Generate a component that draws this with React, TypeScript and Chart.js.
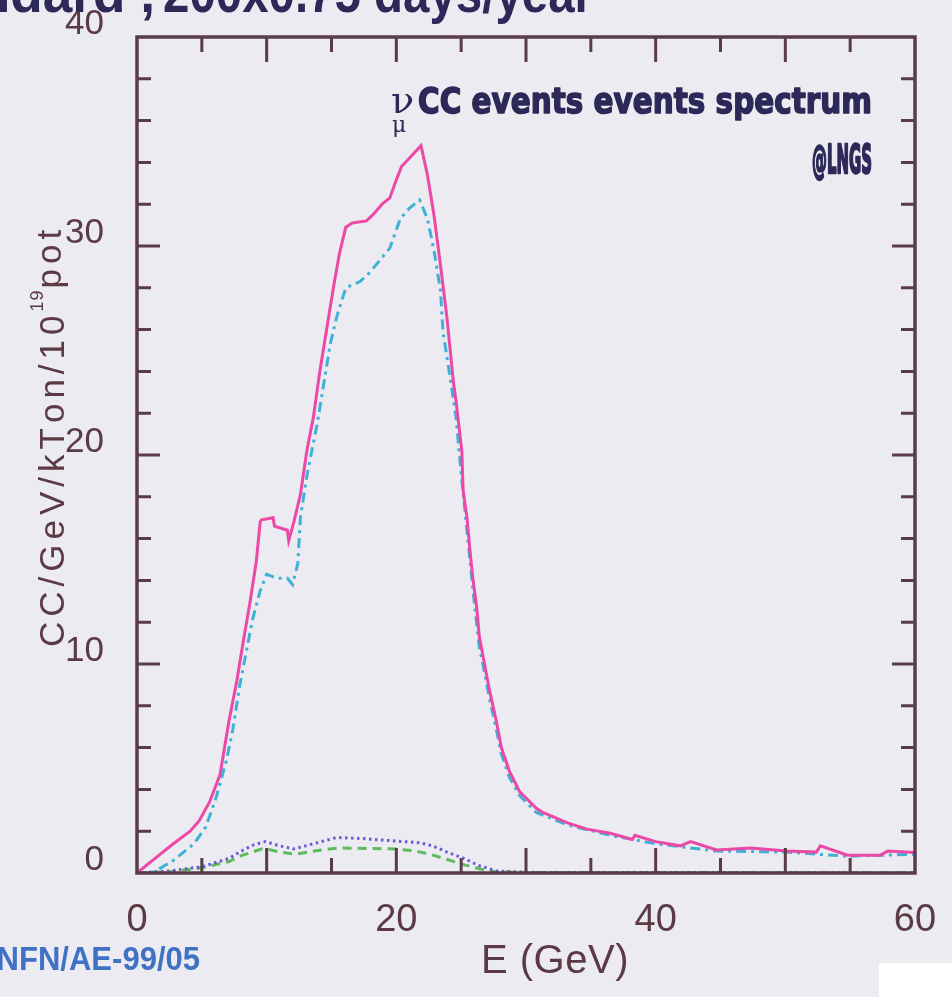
import { useEffect, useRef } from "react";
import { Chart, registerables } from "chart.js";

Chart.register(...registerables);

// ---- axis ranges / tick labels ----
const xTickValues = [0, 20, 40, 60];
const yTickValues = [0, 10, 20, 30, 40];

// ---- total (solid magenta) ----
const totalE = [0, 1.8, 2.8, 4.1, 4.8, 5.6, 6.4, 7.1, 7.7, 8.2, 8.7, 9.2, 9.5, 9.6, 10.5, 10.6, 11.6, 11.7, 12.1, 12.6, 13.1, 13.6, 14.1, 14.7, 15.2, 15.6, 16.1, 16.6, 17.7, 18.2, 18.9, 19.5, 19.9, 20.4, 21.0, 21.9, 22.4, 22.9, 23.4, 23.9, 24.4, 24.6, 25.05, 25.15, 25.45, 25.65, 25.9, 26.2, 26.4, 26.8, 27.2, 27.7, 28.1, 28.7, 29.5, 30.8, 31.3, 33.2, 34.7, 36.5, 38.2, 38.4, 40.0, 41.9, 42.7, 44.7, 47.3, 50.1, 52.4, 52.7, 54.8, 57.3, 57.9, 60];
const totalRate = [0, 0.9, 1.4, 2.0, 2.5, 3.4, 4.7, 7.3, 9.2, 11.1, 12.9, 14.9, 16.8, 16.9, 17.0, 16.6, 16.4, 15.9, 16.8, 18.1, 20.2, 21.8, 24.0, 26.3, 28.2, 29.6, 30.9, 31.1, 31.2, 31.5, 32.0, 32.3, 33.0, 33.8, 34.2, 34.8, 33.4, 31.5, 29.1, 26.6, 23.5, 22.6, 20.2, 18.3, 17.0, 15.6, 14.1, 12.7, 11.3, 10.0, 8.7, 7.3, 6.0, 4.9, 3.9, 3.1, 2.9, 2.4, 2.1, 1.9, 1.6, 1.8, 1.5, 1.3, 1.5, 1.1, 1.2, 1.05, 1.0, 1.3, 0.85, 0.85, 1.05, 0.98];

// ---- main component (cyan dash-dot) ----
const mainE = [0, 1.3, 2.8, 4.4, 5.3, 6.1, 6.9, 7.4, 7.9, 8.4, 8.9, 9.5, 10.0, 10.8, 11.6, 12.0, 12.4, 12.6, 13.1, 13.9, 14.4, 14.9, 15.4, 16.1, 17.2, 17.9, 18.7, 19.5, 20.3, 21.0, 21.8, 22.4, 22.9, 23.4, 23.6, 24.2, 24.6, 25.05, 25.45, 25.9, 26.4, 26.8, 27.2, 27.7, 28.1, 28.7, 29.5, 30.8, 33.2, 36.5, 40.0, 44.7, 50.1, 54.8, 60];
const mainRate = [0, 0.05, 0.6, 1.4, 2.2, 3.6, 5.4, 6.9, 8.9, 10.5, 12.1, 13.5, 14.3, 14.1, 14.1, 13.8, 14.8, 17.0, 19.0, 21.5, 23.4, 25.3, 26.6, 28.0, 28.3, 28.7, 29.3, 29.9, 31.3, 31.8, 32.2, 31.3, 29.8, 27.9, 25.9, 23.5, 21.8, 18.8, 16.4, 13.6, 10.8, 9.6, 8.3, 6.9, 5.7, 4.6, 3.7, 2.9, 2.3, 1.8, 1.4, 1.05, 1.0, 0.8, 0.9];

// ---- dotted (purple) ----
const dottedE = [0, 2.5, 5.0, 7.1, 7.9, 9.0, 9.9, 11.0, 12.1, 13.0, 14.2, 15.4, 17.4, 19.5, 21.8, 22.8, 23.9, 25.2, 26.4, 27.7, 30.3, 45, 60];
const dottedRate = [0, 0.1, 0.3, 0.7, 1.0, 1.35, 1.5, 1.3, 1.15, 1.3, 1.5, 1.7, 1.65, 1.55, 1.45, 1.3, 1.0, 0.7, 0.35, 0.1, 0.03, 0.02, 0];

// ---- dashed (green) ----
const dashedE = [0, 2.5, 5.0, 7.1, 7.9, 9.6, 10.0, 11.0, 12.2, 14.2, 15.6, 20.0, 21.5, 22.6, 25.2, 26.4, 27.7, 30.3, 60];
const dashedRate = [0, 0.05, 0.25, 0.55, 0.8, 1.15, 1.15, 1.0, 0.9, 1.1, 1.2, 1.15, 1.05, 0.9, 0.4, 0.2, 0.05, 0.02, 0];

const BG = "#ecebf2";
const FRAME = "#5a3c46";
const TEXT = "#5b3a44";
const NAVY = "#2c2858";

function pts(xs: number[], ys: number[]) {
  return xs.map((x, i) => ({ x, y: ys[i] }));
}

function fitText(
  ctx: CanvasRenderingContext2D,
  text: string,
  x: number,
  baseline: number,
  width: number,
  font: string,
  align: "left" | "right",
  stroke = 0
) {
  ctx.save();
  ctx.font = font;
  const w = ctx.measureText(text).width;
  const s = width / w;
  ctx.translate(align === "right" ? x - width : x, baseline);
  ctx.scale(s, 1);
  ctx.textAlign = "left";
  ctx.textBaseline = "alphabetic";
  ctx.fillText(text, 0, 0);
  if (stroke > 0) {
    ctx.strokeStyle = ctx.fillStyle as string;
    ctx.lineWidth = stroke;
    ctx.lineJoin = "round";
    ctx.strokeText(text, 0, 0);
  }
  ctx.restore();
}

function drawSpaced(ctx: CanvasRenderingContext2D, text: string, x: number, y: number, spacing: number) {
  let cx = x;
  for (const ch of text) {
    ctx.fillText(ch, cx, y);
    cx += ctx.measureText(ch).width + spacing;
  }
  return cx;
}

const decorPlugin = {
  id: "decor",
  beforeDraw(chart: any) {
    const ctx = chart.ctx as CanvasRenderingContext2D;
    ctx.save();
    ctx.fillStyle = BG;
    ctx.fillRect(0, 0, chart.width, chart.height);
    ctx.restore();
  },
  afterDraw(chart: any) {
    const ctx = chart.ctx as CanvasRenderingContext2D;
    const a = chart.chartArea;
    const xs = chart.scales.x;
    const ys = chart.scales.y;
    ctx.save();
    // frame
    ctx.strokeStyle = FRAME;
    ctx.lineWidth = 3.5;
    ctx.strokeRect(a.left, a.top, a.right - a.left, a.bottom - a.top);
    // tick marks
    ctx.lineWidth = 3;
    ctx.beginPath();
    for (let v = 5; v < 60; v += 5) {
      const px = xs.getPixelForValue(v);
      const len = v % 10 === 0 ? 25 : 15;
      ctx.moveTo(px, a.bottom);
      ctx.lineTo(px, a.bottom - len);
      ctx.moveTo(px, a.top);
      ctx.lineTo(px, a.top + len);
    }
    for (let v = 2; v < 40; v += 2) {
      const py = ys.getPixelForValue(v);
      const len = v % 10 === 0 ? 23 : 14;
      ctx.moveTo(a.left, py);
      ctx.lineTo(a.left + len, py);
      ctx.moveTo(a.right, py);
      ctx.lineTo(a.right - len, py);
    }
    ctx.stroke();

    // y axis title (rotated)
    ctx.fillStyle = TEXT;
    ctx.save();
    ctx.translate(64, 647);
    ctx.rotate(-Math.PI / 2);
    ctx.textBaseline = "alphabetic";
    ctx.textAlign = "left";
    ctx.font = "35px 'Liberation Sans', Arial, sans-serif";
    let cx = drawSpaced(ctx, "CC/GeV/kTon/10", 0, 0, 5);
    ctx.font = "18px 'Liberation Sans', Arial, sans-serif";
    cx = drawSpaced(ctx, "19", cx - 1, -21, 1);
    ctx.font = "35px 'Liberation Sans', Arial, sans-serif";
    drawSpaced(ctx, "pot", cx + 1, -3, 5);
    ctx.restore();

    // x axis title
    ctx.font = "40px 'Liberation Sans', Arial, sans-serif";
    ctx.textAlign = "left";
    ctx.textBaseline = "alphabetic";
    drawSpaced(ctx, "E (GeV)", 481, 973, 0.5);

    // annotation
    ctx.fillStyle = NAVY;
    ctx.font = "38px 'DejaVu Serif', serif";
    ctx.fillText("\u03bd", 391, 113);
    ctx.font = "22px 'DejaVu Serif', serif";
    ctx.fillText("\u03bc", 392, 132);
    fitText(ctx, "CC events events spectrum", 872, 113, 454, "bold 36px 'DejaVu Sans', sans-serif", "right", 1.6);
    fitText(ctx, "@LNGS", 872, 173, 60, "bold 39px 'DejaVu Sans', sans-serif", "right", 2.5);

    // clipped header text at top
    fitText(ctx, "Standard ,", 155, 12, 260, "bold 56px 'Liberation Sans', Arial, sans-serif", "right");
    fitText(ctx, "200x0.75 days/year", 163, 12, 430, "bold 56px 'Liberation Sans', Arial, sans-serif", "left");

    // report number
    ctx.fillStyle = "#3f72c4";
    fitText(ctx, "INFN/AE-99/05", 200, 970, 212, "bold 34px 'Liberation Sans', Arial, sans-serif", "right");

    // white patch bottom-right
    ctx.fillStyle = "#ffffff";
    ctx.fillRect(879, 963, 73, 34);
    ctx.restore();
  },
};

export default function App() {
  const ref = useRef<HTMLCanvasElement | null>(null);
  useEffect(() => {
    if (!ref.current) return;
    const chart = new Chart(ref.current, {
      type: "line",
      data: {
        datasets: [
          {
            label: "total",
            data: pts(totalE, totalRate),
            borderColor: "#ec48a6",
            borderWidth: 3,
            pointRadius: 0,
            tension: 0,
          },
          {
            label: "main",
            data: pts(mainE, mainRate),
            borderColor: "#3fb1d6",
            borderWidth: 3,
            borderDash: [10, 5, 3, 5],
            pointRadius: 0,
            tension: 0,
          },
          {
            label: "dotted",
            data: pts(dottedE, dottedRate),
            borderColor: "#6a5ad6",
            borderWidth: 3,
            borderDash: [2.5, 3.5],
            pointRadius: 0,
            tension: 0,
          },
          {
            label: "dashed",
            data: pts(dashedE, dashedRate),
            borderColor: "#5dbb5d",
            borderWidth: 3,
            borderDash: [9, 6],
            pointRadius: 0,
            tension: 0,
          },
        ],
      },
      options: {
        animation: false,
        responsive: false,
        layout: { padding: { top: 37, right: 37, left: 0, bottom: 0 } },
        plugins: { legend: { display: false }, tooltip: { enabled: false }, title: { display: false } },
        scales: {
          x: {
            type: "linear",
            min: 0,
            max: 60,
            afterFit: (s: any) => {
              s.height = 124;
              s.paddingLeft = 0;
              s.paddingRight = 0;
            },
            afterBuildTicks: (s: any) => {
              s.ticks = xTickValues.map((v) => ({ value: v }));
            },
            grid: { display: false, drawTicks: false },
            border: { display: false },
            ticks: {
              color: TEXT,
              font: { family: "'Liberation Sans', Arial, sans-serif", size: 38 },
              padding: 25,
              maxRotation: 0,
            },
          },
          y: {
            type: "linear",
            min: 0,
            max: 40,
            afterFit: (s: any) => {
              s.width = 137;
              s.paddingTop = 0;
              s.paddingBottom = 0;
            },
            afterBuildTicks: (s: any) => {
              s.ticks = yTickValues.map((v) => ({ value: v }));
            },
            grid: { display: false, drawTicks: false },
            border: { display: false },
            ticks: {
              color: TEXT,
              font: { family: "'Liberation Sans', Arial, sans-serif", size: 35 },
              padding: 33,
              labelOffset: -13,
            },
          },
        },
      },
      plugins: [decorPlugin],
    });
    return () => chart.destroy();
  }, []);
  return (
    <div style={{ position: "fixed", left: 0, top: 0, width: 952, height: 997 }}>
      <canvas ref={ref} width={952} height={997} style={{ display: "block" }} />
    </div>
  );
}
